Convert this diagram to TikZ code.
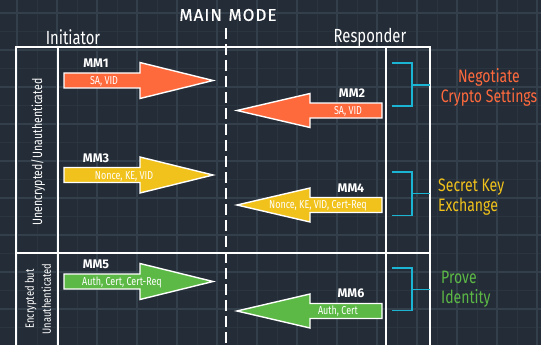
\documentclass[tikz,border=0pt]{standalone}
\usepackage{fontspec}
\setmainfont{Fira Sans}
\newfontfamily\hand[FakeStretch=0.78]{Fira Sans}
\newfontfamily\boldsans{Fira Sans}
\newfontfamily\titlesans[FakeBold=0.6]{Fira Sans}
\definecolor{bgc}{HTML}{242C37}
\definecolor{gridc}{HTML}{33404B}
\definecolor{gridm}{HTML}{2B3540}
\definecolor{orng}{HTML}{FF6A3D}
\definecolor{yell}{HTML}{F1C21B}
\definecolor{grn}{HTML}{5CB946}
\definecolor{cyn}{HTML}{1BB5D3}
\newcommand\rarr[4]{\draw[arrowbox,fill=#4] (#1,#3-7.5) -- (#2-73,#3-7.5) -- (#2-73,#3-18) -- (#2,#3) -- (#2-73,#3+18) -- (#2-73,#3+7.5) -- (#1,#3+7.5) -- cycle;}
\newcommand\larr[4]{\draw[arrowbox,fill=#4] (#2,#3-7.5) -- (#1+73,#3-7.5) -- (#1+73,#3-17) -- (#1,#3) -- (#1+73,#3+17) -- (#1+73,#3+7.5) -- (#2,#3+7.5) -- cycle;}
\newcommand\brk[3]{\draw[brkline] (392,#1) -- (412,#1) -- (412,#3) -- (392,#3); \draw[brkline] (412,#2) -- (430,#2);}
\begin{document}
\begin{tikzpicture}[x=1pt,y=-1pt,
  arrowbox/.style={draw=white,line width=1.4pt,line join=miter},
  frame/.style={draw=white,line width=2pt},
  brkline/.style={draw=cyn,line width=1.6pt},
  mm/.style={text=white,font=\boldsans\bfseries\fontsize{12.5}{12}\selectfont,inner sep=0pt},
  inside/.style={text=white,font=\hand\fontsize{11.5}{10}\selectfont,inner sep=0pt},
  role/.style={text=white,font=\hand\fontsize{19}{16}\selectfont,inner sep=0pt},
  side/.style={font=\hand\fontsize{18}{20}\selectfont,inner sep=0pt,align=left,anchor=west},
  vlab/.style={text=white,font=\hand\fontsize{13.5}{11}\selectfont,inner sep=0pt,rotate=90,align=center}]
\fill[bgc] (0,0) rectangle (541,345);
\useasboundingbox (0,0) rectangle (541,345);
% minor grid
\foreach \x in {37,77,...,537} \draw[gridm,line width=0.8pt] (\x,0) -- (\x,345);
\foreach \y in {31.5,68.5,...,345} \draw[gridm,line width=0.8pt] (0,\y) -- (541,\y);
% major grid
\foreach \x in {17,57,...,537} \draw[gridc,line width=1.3pt] (\x,0) -- (\x,345);
\foreach \y in {13,50,...,345} \draw[gridc,line width=1.3pt] (0,\y) -- (541,\y);
% title
\node[text=white,font=\titlesans\fontsize{17}{17}\selectfont,inner sep=0pt] (title) at (228,15) {M\kern1pt A\kern1pt I\kern1pt N\kern2pt\ M\kern1pt O\kern1pt D\kern1pt E};
\node[role] (init) at (73,37) {Initiator};
\node[role] (resp) at (370,37) {Responder};
% frame
\draw[frame] (16,345) -- (16,47) -- (430,47) -- (430,345);
\draw[frame] (58,47) -- (58,345);
\draw[frame] (386,47) -- (386,345);
\draw[frame] (16,253) -- (430,253);
\draw[white,line width=2pt,dash pattern=on 11pt off 5pt] (226,28) -- (226,345);
% arrows
\rarr{64}{213}{80.5}{orng}
\larr{237}{382}{110.5}{orng}
\rarr{64}{213}{175}{yell}
\larr{237}{382}{205}{yell}
\rarr{64}{213}{281.5}{grn}
\larr{237}{382}{311}{grn}
% MM labels
\node[mm] (mm1) at (96,63) {MM1};
\node[mm] (mm2) at (352,93) {MM2};
\node[mm] (mm3) at (96,158) {MM3};
\node[mm] (mm4) at (351,188) {MM4};
\node[mm] (mm5) at (96,264) {MM5};
\node[mm] (mm6) at (351,293) {MM6};
% inner texts
\node[inside] (t1) at (104,81) {SA, VID};
\node[inside] (t2) at (348,111.5) {SA, VID};
\node[inside] (t3) at (124,176) {Nonce, KE, VID};
\node[inside] (t4) at (318,205.5) {Nonce, KE, VID, Cert-Req};
\node[inside] (t5) at (122,282.5) {Auth, Cert, Cert-Req};
\node[inside] (t6) at (338,311.5) {Auth, Cert};
% brackets
\brk{63}{85}{106}
\brk{172}{193.5}{215.5}
\brk{268}{289.5}{310.5}
% side labels
\node[side,text=orng,align=center,anchor=center] (s1) at (489,87) {Negotiate\\Crypto Settings};
\node[side,text=yell] (s2) at (438,197) {Secret Key\\Exchange};
\node[side,text=grn] (s3) at (441,289) {Prove\\Identity};
% vertical labels
\node[vlab] (v1) at (38,152) {Unencrypted/Unauthenticated};
\node[vlab,font=\hand\fontsize{12}{17}\selectfont] (v2) at (38,299) {Encrypted but\\Unauthenticated};
\end{tikzpicture}
\end{document}
